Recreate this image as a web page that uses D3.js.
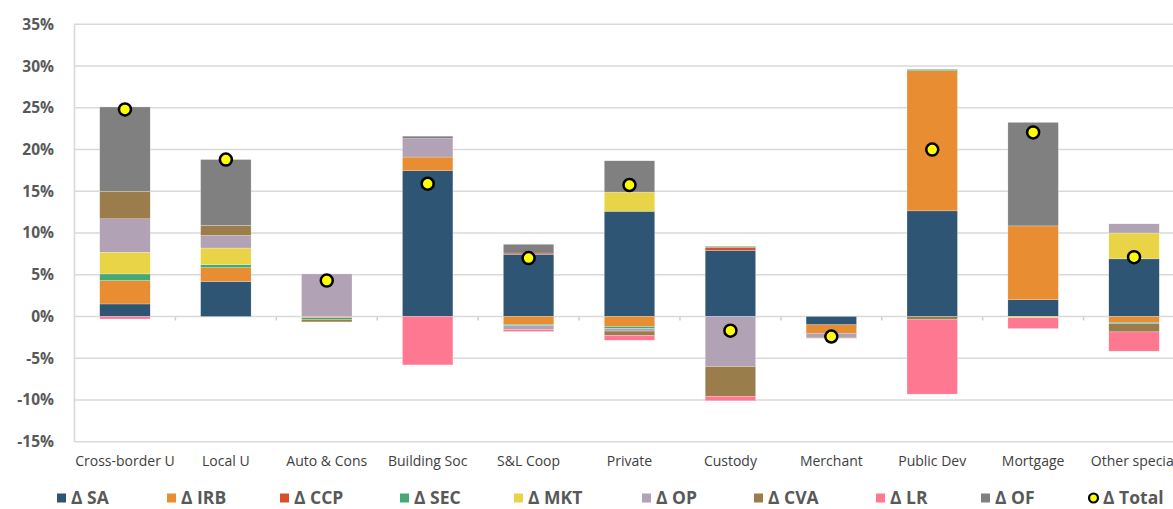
<!DOCTYPE html>
<html>
<head>
<meta charset="utf-8">
<script src="https://cdn.jsdelivr.net/npm/d3@7"></script>
<style>
  html, body { margin: 0; padding: 0; background: #fff; overflow: hidden; }
  svg { display: block; }
</style>
</head>
<body>
<svg id="chart" width="1173" height="509"></svg>
<script>
// ---------- DATA ----------
const categories = ["Cross-border U", "Local U", "Auto & Cons", "Building Soc", "S&L Coop", "Private", "Custody", "Merchant", "Public Dev", "Mortgage", "Other special"];
const seriesNames = ["Δ SA", "Δ IRB", "Δ CCP", "Δ SEC", "Δ MKT", "Δ OP", "Δ CVA", "Δ LR", "Δ OF"];
const dSA  = [1.5, 4.2, 0.0, 17.45, 7.45, 12.6, 7.9, -1.0, 12.65, 2.0, 6.9];
const dIRB = [2.8, 1.65, -0.15, 1.65, -0.95, -1.2, 0.0, -1.0, 16.8, 8.85, -0.7];
const dCCP = [0.0, 0.0, 0.0, 0.0, 0.15, 0.0, 0.4, 0.0, 0.0, 0.0, 0.0];
const dSEC = [0.8, 0.35, -0.2, 0.0, -0.15, -0.25, 0.1, 0.0, 0.15, 0.0, -0.15];
const dMKT = [2.6, 2.0, 0.0, 0.0, 0.0, 2.3, 0.0, 0.0, 0.0, -0.15, 3.1];
const dOP  = [4.0, 1.5, 5.1, 2.2, -0.45, -0.3, -6.0, -0.5, 0.0, 0.0, 1.1];
const dCVA = [3.3, 1.2, -0.3, 0.0, 0.0, -0.5, -3.55, -0.1, -0.4, 0.0, -1.0];
const dLR  = [-0.3, 0.0, 0.0, -5.8, -0.25, -0.6, -0.55, 0.0, -8.9, -1.3, -2.3];
const dOF  = [10.1, 7.9, 0.0, 0.3, 1.05, 3.75, 0.0, 0.0, 0.0, 12.4, 0.0];
const dTotal = [24.8, 18.8, 4.3, 15.9, 7.0, 15.75, -1.7, -2.4, 20.0, 22.05, 7.1];
const yTicks = [35, 30, 25, 20, 15, 10, 5, 0, -5, -10, -15];

// ---------- STYLE / LAYOUT ----------
const seriesColors = ["#2E5573", "#E88D31", "#D94F2B", "#46A872", "#E8D446", "#B1A2B6", "#9A7D4B", "#FF7891", "#808080"];
const legendX = [57, 167, 280, 400, 514, 642, 754, 876, 981, 1089];
const W = 1173, H = 509;
const plotLeft = 74.5, plotRight = 1184.5, plotTop = 24.3, plotBottom = 441.7;

const svg = d3.select("#chart");
const seriesValues = [dSA, dIRB, dCCP, dSEC, dMKT, dOP, dCVA, dLR, dOF];
const rows = categories.map((c, i) => {
  const r = { cat: c };
  seriesNames.forEach((s, k) => r[s] = seriesValues[k][i]);
  return r;
});

const x = d3.scaleBand().domain(categories).range([plotLeft, plotRight]).paddingInner(0.5).paddingOuter(0.25);
const y = d3.scaleLinear().domain([-15, 35]).range([plotBottom, plotTop]);

// gridlines
svg.append("g").selectAll("line").data(yTicks).join("line")
  .attr("x1", plotLeft).attr("x2", W)
  .attr("y1", d => y(d)).attr("y2", d => y(d))
  .attr("stroke", "#d9d9d9").attr("stroke-width", 1.6);

// left axis line
svg.append("line").attr("x1", plotLeft).attr("x2", plotLeft)
  .attr("y1", plotTop).attr("y2", plotBottom)
  .attr("stroke", "#d9d9d9").attr("stroke-width", 1.6);

// y axis labels
const yAxis = d3.axisLeft(y).tickValues(yTicks).tickFormat(d => d + "%").tickSize(0).tickPadding(0);
const gy = svg.append("g").attr("transform", `translate(${54},0)`).call(yAxis);
gy.select(".domain").remove();
gy.selectAll("text")
  .attr("font-family", "'Open Sans', sans-serif")
  .attr("font-weight", "bold").attr("font-size", 15.5).attr("fill", "#595959");

// category tick marks on zero line
const step = x.step();
svg.append("g").selectAll("line").data(categories.slice(1)).join("line")
  .attr("x1", c => x(c) + x.bandwidth() / 2 - step / 2)
  .attr("x2", c => x(c) + x.bandwidth() / 2 - step / 2)
  .attr("y1", y(0)).attr("y2", y(0) + 4)
  .attr("stroke", "#d0d0d0").attr("stroke-width", 1.5);

// stacked bars
const stack = d3.stack().keys(seriesNames).offset(d3.stackOffsetDiverging);
const stacked = stack(rows);
svg.append("g").selectAll("g").data(stacked).join("g")
  .attr("fill", (d, i) => seriesColors[i])
  .selectAll("rect").data(d => d.filter(p => p[1] !== p[0])).join("rect")
  .attr("x", d => x(d.data.cat))
  .attr("width", x.bandwidth())
  .attr("y", d => y(Math.max(d[0], d[1])))
  .attr("height", d => Math.abs(y(d[0]) - y(d[1])))
  .attr("stroke", "#ffffff").attr("stroke-width", 0.4).attr("stroke-opacity", 0.6);

// category labels
const xAxis = d3.axisBottom(x).tickSize(0).tickPadding(0);
const gx = svg.append("g").attr("transform", `translate(0,${456})`).call(xAxis);
gx.select(".domain").remove();
gx.selectAll("text")
  .attr("font-family", "'Open Sans', sans-serif")
  .attr("font-size", 14).attr("fill", "#404040").attr("dy", "0.71em");

// total dots
svg.append("g").selectAll("circle").data(categories).join("circle")
  .attr("cx", c => x(c) + x.bandwidth() / 2)
  .attr("cy", (c, i) => y(dTotal[i]))
  .attr("r", 6)
  .attr("fill", "#FFFF00").attr("stroke", "#000").attr("stroke-width", 2.5);

// legend
const legendNames = seriesNames.concat(["Δ Total"]);
const lg = svg.append("g").attr("transform", `translate(0,${498})`);
const items = lg.selectAll("g").data(legendNames).join("g")
  .attr("transform", (d, i) => `translate(${legendX[i]},0)`);
items.each(function(d, i) {
  const g = d3.select(this);
  if (i < seriesNames.length) {
    g.append("rect").attr("x", 0).attr("y", -4.5).attr("width", 9).attr("height", 9).attr("fill", seriesColors[i]);
  } else {
    g.append("circle").attr("cx", 4.5).attr("cy", 0).attr("r", 4.5)
      .attr("fill", "#FFFF00").attr("stroke", "#000").attr("stroke-width", 2.2);
  }
  g.append("text").attr("x", 14).attr("y", 0).attr("dy", "0.35em")
    .attr("font-family", "'Open Sans', sans-serif").attr("font-weight", "bold")
    .attr("font-size", 17.5).attr("fill", "#595959").text(d);
});
</script>
</body>
</html>
